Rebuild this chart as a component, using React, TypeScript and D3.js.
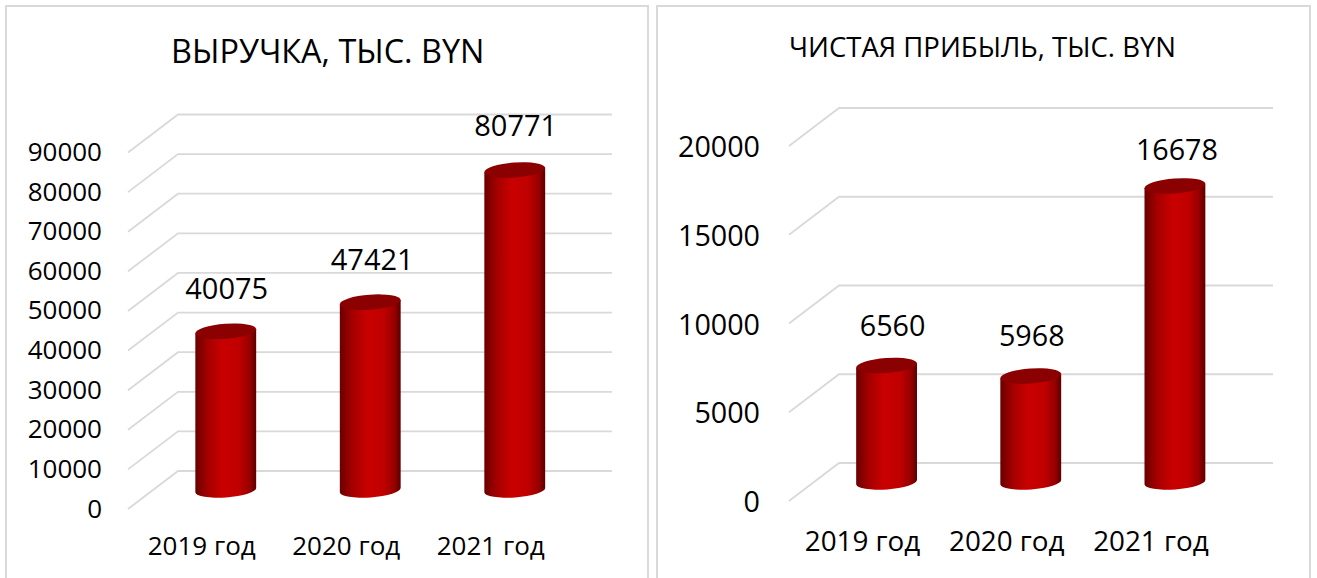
import React from 'react';
import * as d3 from 'd3';

const categories = ['2019 год', '2020 год', '2021 год'];
const revenue = [40075, 47421, 80771];
const profit = [6560, 5968, 16678];
const revenueTicks = [0, 10000, 20000, 30000, 40000, 50000, 60000, 70000, 80000, 90000];
const profitTicks = [0, 5000, 10000, 15000, 20000];

const FONT = '"Open Sans", sans-serif';
const GRID = '#d9d9d9';
const DEPTH_X = 50;
const DEPTH_Y = 38;
const RX = 30.5;
const RY = 7.5;
const TILT = -4.2;
// category labels sit in front of the floor, so they are left of the bars
const CAT_SHIFT = -24;

type PanelProps = {
  title: string;
  values: number[];
  ticks: number[];
  frame: [number, number];
  titleX: number;
  titleY: number;
  titleSize: number;
  axisX: number;
  tickGap: number;
  tickDy: number;
  gridEnd: number;
  yRange: [number, number];
  barRange: [number, number];
  tickSize: number;
  catSize: number;
  catY: number;
  labelSize: number;
  labelGap: number[];
  labelDx: number[];
};

function Panel(p: PanelProps) {
  const y = d3.scaleLinear().domain([p.ticks[0], p.ticks[p.ticks.length - 1]]).range(p.yRange);
  const x = d3.scaleBand().domain(categories).range(p.barRange);
  const backX = p.axisX + DEPTH_X;
  const lift = DEPTH_Y / 2;
  const base = y(0) + lift;

  const dx = RX * Math.cos((TILT * Math.PI) / 180);
  const dy = RX * Math.sin((TILT * Math.PI) / 180);

  return (
    <g>
      <rect x={p.frame[0]} y={6} width={p.frame[1] - p.frame[0]} height={640} fill="#fff" stroke={GRID} strokeWidth={2} />
      <text x={p.titleX} y={p.titleY} fontFamily={FONT} fontSize={p.titleSize} fill="#000">
        {p.title}
      </text>

      {p.ticks.map((t) => (
        <g key={t}>
          <path
            d={`M${p.axisX},${y(t) + DEPTH_Y}L${backX},${y(t)}H${p.gridEnd}`}
            fill="none"
            stroke={GRID}
            strokeWidth={1.8}
          />
          <text
            x={p.axisX - p.tickGap}
            y={y(t) + DEPTH_Y + p.tickDy}
            textAnchor="end"
            fontFamily={FONT}
            fontSize={p.tickSize}
            fill="#000"
          >
            {t}
          </text>
        </g>
      ))}

      {categories.map((c, i) => {
        const cx = x(c)! + x.bandwidth() / 2;
        const topY = y(p.values[i]) + lift;
        const body =
          `M${cx - dx},${base - dy}` +
          `A${RX},${RY} ${TILT} 0 0 ${cx + dx},${base + dy}` +
          `L${cx + dx},${topY + dy}` +
          `L${cx - dx},${topY - dy}Z`;
        return (
          <g key={c}>
            <path d={body} fill="url(#cyl)" />
            <ellipse
              cx={cx}
              cy={topY}
              rx={RX}
              ry={RY}
              fill="#8b0000"
              transform={`rotate(${TILT} ${cx} ${topY})`}
            />
            <text
              x={cx + p.labelDx[i]}
              y={topY - p.labelGap[i]}
              textAnchor="middle"
              fontFamily={FONT}
              fontSize={p.labelSize}
              fill="#000"
            >
              {p.values[i]}
            </text>
            <text
              x={cx + CAT_SHIFT}
              y={p.catY}
              textAnchor="middle"
              fontFamily={FONT}
              fontSize={p.catSize}
              fill="#000"
            >
              {c}
            </text>
          </g>
        );
      })}
    </g>
  );
}

export default function App() {
  return (
    <svg width={1317} height={578} style={{ position: 'absolute', left: 0, top: 0, background: '#fff' }}>
      <defs>
        <linearGradient id="cyl" x1="0" x2="1" y1="0" y2="0">
          <stop offset="0" stopColor="#6a0000" />
          <stop offset="0.2" stopColor="#a30000" />
          <stop offset="0.45" stopColor="#c90000" />
          <stop offset="0.72" stopColor="#c00000" />
          <stop offset="0.9" stopColor="#960000" />
          <stop offset="1" stopColor="#5c0000" />
        </linearGradient>
      </defs>
      <Panel
        title="ВЫРУЧКА, ТЫС. BYN"
        values={revenue}
        ticks={revenueTicks}
        frame={[6, 648]}
        titleX={171}
        titleY={63}
        titleSize={32.4}
        axisX={128}
        tickGap={26}
        tickDy={8.5}
        gridEnd={612}
        yRange={[471, 114.5]}
        barRange={[153.5, 587]}
        tickSize={26}
        catSize={26}
        catY={554.5}
        labelSize={29}
        labelGap={[32, 32, 34]}
        labelDx={[1, 2, 1]}
      />
      <Panel
        title="ЧИСТАЯ ПРИБЫЛЬ, ТЫС. BYN"
        values={profit}
        ticks={profitTicks}
        frame={[657, 1310]}
        titleX={789}
        titleY={57}
        titleSize={27.5}
        axisX={789}
        tickGap={29}
        tickDy={11}
        gridEnd={1273}
        yRange={[463, 108]}
        barRange={[814.5, 1247]}
        tickSize={28.7}
        catSize={27.8}
        catY={551}
        labelSize={28.7}
        labelGap={[30, 30, 26]}
        labelDx={[6, 1, 2]}
      />
    </svg>
  );
}
